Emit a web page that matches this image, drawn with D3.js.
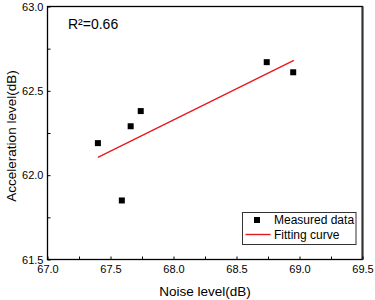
<!DOCTYPE html>
<html>
<head>
<meta charset="utf-8">
<script src="https://cdn.jsdelivr.net/npm/d3@7"></script>
<style>
  html, body { margin: 0; padding: 0; background: #fff; }
  svg { display: block; font-family: "Liberation Sans", Arial, sans-serif; }
</style>
</head>
<body>
<svg id="chart" width="375" height="300"></svg>
<script>
// Data
const noiseLevel = [67.40, 67.59, 67.66, 67.74, 68.74, 68.95];
const accelLevel = [62.19, 61.85, 62.29, 62.38, 62.67, 62.61];
const fitX = [67.40, 68.955];
const fitY = [62.105, 62.68];
const xTicks = [67.0, 67.5, 68.0, 68.5, 69.0, 69.5];
const yTicks = [61.5, 62.0, 62.5, 63.0];
const rSquared = "R\u00B2=0.66";
const legendLabels = ["Measured data", "Fitting curve"];

const svg = d3.select("#chart");
const m = { left: 47.5, right: 362.5, top: 6.5, bottom: 259.5 };

const x = d3.scaleLinear().domain([67.0, 69.5]).range([m.left, m.right]);
const y = d3.scaleLinear().domain([61.5, 63.0]).range([m.bottom, m.top]);

// Frame
svg.append("rect")
  .attr("x", m.left).attr("y", m.top)
  .attr("width", m.right - m.left).attr("height", m.bottom - m.top)
  .attr("fill", "none").attr("stroke", "#000").attr("stroke-width", 1.3);
svg.append("line")
  .attr("x1", m.right).attr("x2", m.right).attr("y1", m.top).attr("y2", m.bottom)
  .attr("stroke", "#333").attr("stroke-width", 2);

// Bottom axis (inward ticks incl. minor)
const xMinor = d3.range(67.0, 69.5001, 0.25);
const xAxis = d3.axisBottom(x).tickValues(xMinor).tickSize(-3)
  .tickFormat(d => xTicks.some(t => Math.abs(t - d) < 1e-6) ? d3.format(".1f")(d) : "");
const gx = svg.append("g").attr("transform", `translate(0,${m.bottom})`).call(xAxis);
gx.select(".domain").remove();
gx.selectAll("line").attr("stroke", "#000");
gx.selectAll("text").attr("font-size", 11).attr("fill", "#000").attr("dy", "0.95em").attr("y", 3.5);

// Left axis
const yMinor = d3.range(61.5, 63.0001, 0.25);
const yAxis = d3.axisLeft(y).tickValues(yMinor).tickSize(-3)
  .tickFormat(d => yTicks.some(t => Math.abs(t - d) < 1e-6) ? d3.format(".1f")(d) : "");
const gy = svg.append("g").attr("transform", `translate(${m.left},0)`).call(yAxis);
gy.select(".domain").remove();
gy.selectAll("line").attr("stroke", "#000");
gy.selectAll("text").attr("font-size", 11).attr("fill", "#000").attr("x", -4);

// Axis titles
svg.append("text")
  .attr("x", 205).attr("y", 296)
  .attr("text-anchor", "middle").attr("font-size", 13.5).attr("fill", "#000")
  .text("Noise level(dB)");
svg.append("text")
  .attr("transform", `translate(15.5,136) rotate(-90)`)
  .attr("text-anchor", "middle").attr("font-size", 13.5).attr("fill", "#000")
  .text("Acceleration level(dB)");

// Fit line
svg.append("line")
  .attr("x1", x(fitX[0])).attr("y1", y(fitY[0]))
  .attr("x2", x(fitX[1])).attr("y2", y(fitY[1]))
  .attr("stroke", "#e8191c").attr("stroke-width", 1.4);

// Points
const s = 6;
svg.append("g").selectAll("rect")
  .data(noiseLevel.map((d, i) => [d, accelLevel[i]]))
  .join("rect")
  .attr("x", d => x(d[0]) - s / 2).attr("y", d => y(d[1]) - s / 2)
  .attr("width", s).attr("height", s).attr("fill", "#000");

// R^2 label
svg.append("text")
  .attr("x", 68).attr("y", 29)
  .attr("font-size", 14).attr("fill", "#000")
  .text(rSquared);

// Legend
const lg = svg.append("g");
lg.append("rect")
  .attr("x", 242.5).attr("y", 212.5).attr("width", 113.5).attr("height", 32)
  .attr("fill", "#fff").attr("stroke", "#333").attr("stroke-width", 1);
lg.append("rect")
  .attr("x", 257 - s / 2).attr("y", 220 - s / 2).attr("width", s).attr("height", s).attr("fill", "#000");
lg.append("line")
  .attr("x1", 245.5).attr("x2", 270.5).attr("y1", 234.5).attr("y2", 234.5)
  .attr("stroke", "#e8191c").attr("stroke-width", 1.4);
lg.selectAll("text.lab").data(legendLabels).join("text")
  .attr("class", "lab")
  .attr("x", 274).attr("y", (d, i) => 220 + i * 14.5)
  .attr("dy", "0.35em")
  .attr("font-size", 12).attr("fill", "#000")
  .text(d => d);
</script>
</body>
</html>
